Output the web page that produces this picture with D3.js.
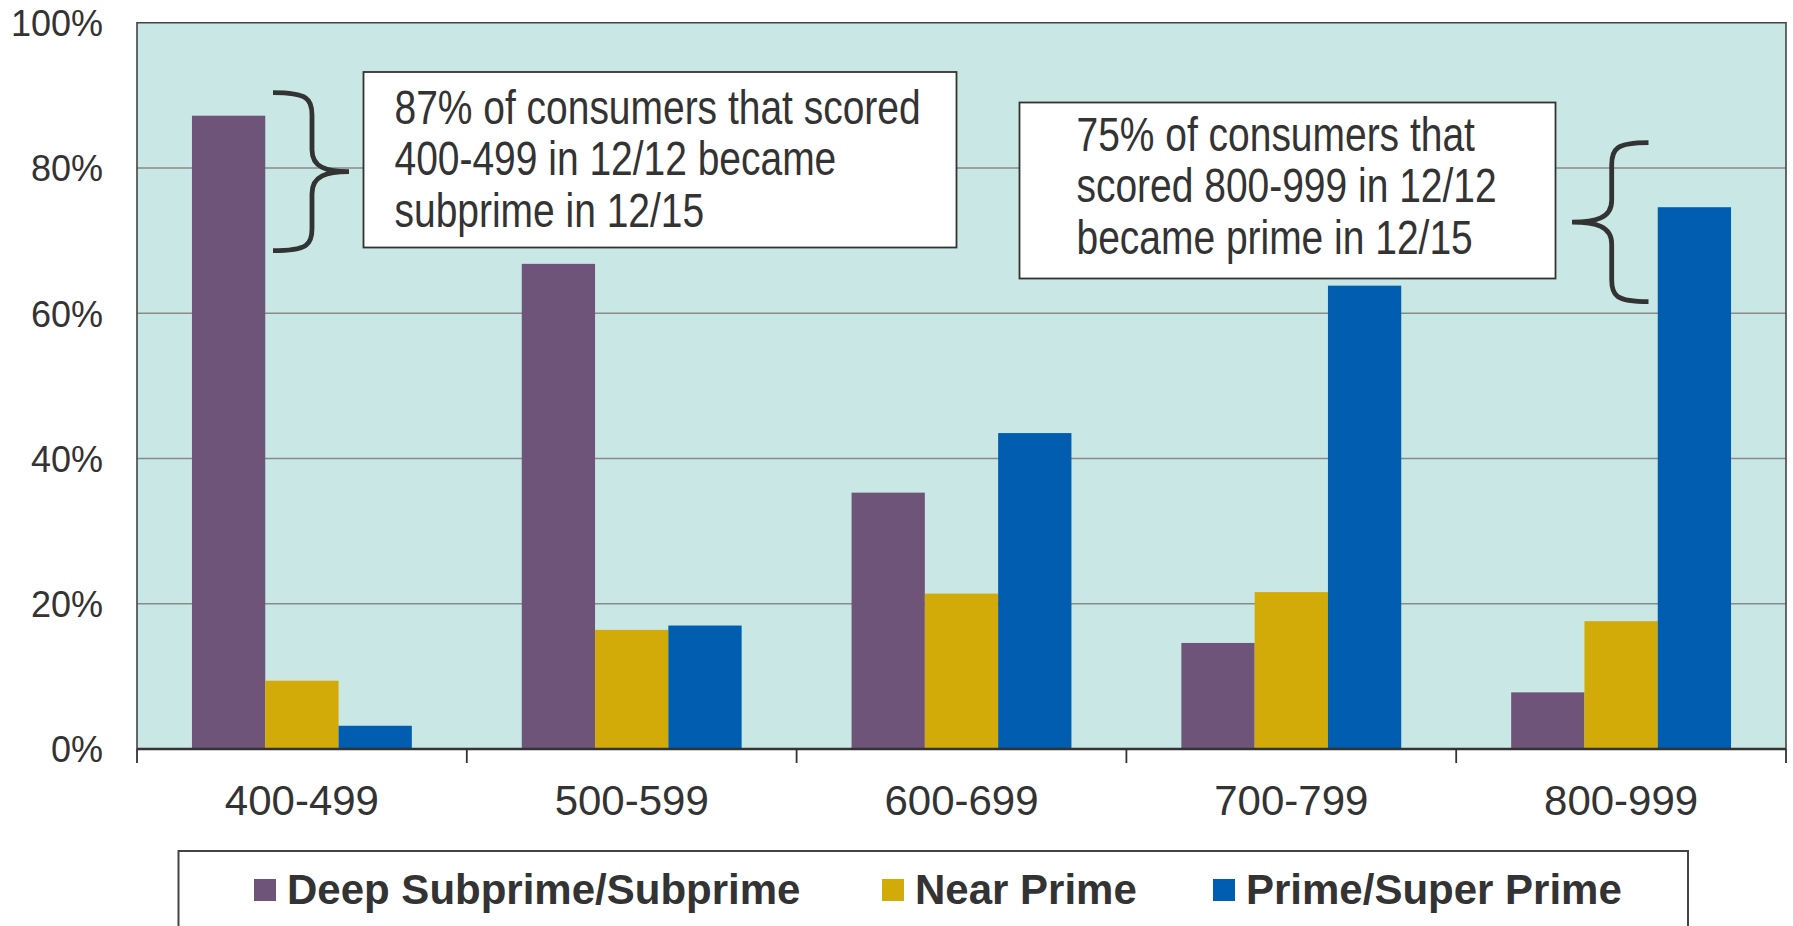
<!DOCTYPE html>
<html>
<head>
<meta charset="utf-8">
<script src="https://cdn.jsdelivr.net/npm/d3@7"></script>
<style>
  html, body { margin: 0; padding: 0; background: #fff; }
  svg { display: block; }
</style>
</head>
<body>
<svg id="chart" width="1793" height="926"></svg>
<script>
// ---- Data ----
const categories = ["400-499", "500-599", "600-699", "700-799", "800-999"];
const seriesNames = ["Deep Subprime/Subprime", "Near Prime", "Prime/Super Prime"];
const deepSubprime = [87.2, 66.8, 35.3, 14.6, 7.8];
const nearPrime = [9.4, 16.4, 21.4, 21.6, 17.6];
const primeSuper = [3.2, 17.0, 43.5, 63.8, 74.6];
const yTicks = [0, 20, 40, 60, 80, 100];
const note1 = ["87% of consumers that scored", "400-499 in 12/12 became", "subprime in 12/15"];
const note2 = ["75% of consumers that", "scored 800-999 in 12/12", "became prime in 12/15"];

const seriesValues = [deepSubprime, nearPrime, primeSuper];
const colors = ["#6f5479", "#d2ab08", "#005daf"];
const textColor = "#333333";

// ---- Layout ----
const svg = d3.select("#chart");
const plot = { left: 137, right: 1786, top: 22.75, bottom: 749 };

const x0 = d3.scaleBand().domain(categories).range([plot.left, plot.right]).padding(0);
const x1 = d3.scaleBand().domain(seriesNames).range([0, x0.bandwidth()]).paddingInner(0).paddingOuter(0.75);
const y = d3.scaleLinear().domain([0, 100]).range([plot.bottom, plot.top]);

// plot background
svg.append("rect")
  .attr("x", plot.left).attr("y", plot.top)
  .attr("width", plot.right - plot.left).attr("height", plot.bottom - plot.top)
  .attr("fill", "#c9e8e5");

// gridlines
svg.append("g")
  .selectAll("line")
  .data(yTicks.filter(d => d > 0 && d < 100))
  .join("line")
  .attr("x1", plot.left).attr("x2", plot.right)
  .attr("y1", d => y(d)).attr("y2", d => y(d))
  .attr("stroke", "#8a8a8a").attr("stroke-width", 1.5);

// plot border (top, left, right)
svg.append("path")
  .attr("d", `M${plot.left},${plot.bottom} L${plot.left},${plot.top} L${plot.right},${plot.top} L${plot.right},${plot.bottom}`)
  .attr("fill", "none").attr("stroke", "#444").attr("stroke-width", 1.6);

// bars
const rows = categories.map((c, i) => ({ cat: c, vals: seriesNames.map((s, j) => ({ s, j, v: seriesValues[j][i] })) }));
svg.append("g")
  .selectAll("g")
  .data(rows)
  .join("g")
  .attr("transform", d => `translate(${x0(d.cat)},0)`)
  .selectAll("rect")
  .data(d => d.vals)
  .join("rect")
  .attr("x", d => x1(d.s))
  .attr("y", d => y(d.v))
  .attr("width", x1.bandwidth())
  .attr("height", d => y(0) - y(d.v))
  .attr("fill", d => colors[d.j]);

// y axis labels
const yAxis = d3.axisLeft(y).tickValues(yTicks).tickFormat(d => d + "%").tickSize(0).tickPadding(0);
const yg = svg.append("g").attr("transform", `translate(103,0)`).call(yAxis);
yg.select(".domain").remove();
yg.selectAll("text")
  .attr("font-family", "Liberation Sans, Arial, sans-serif")
  .attr("font-size", 36)
  .attr("fill", textColor)
  .attr("dy", "0.36em");

// x axis
const xAxis = d3.axisBottom(x0).tickSize(0).tickPadding(0);
const xg = svg.append("g").attr("transform", `translate(0,${plot.bottom})`).call(xAxis);
xg.select(".domain").remove();
xg.selectAll("text")
  .attr("font-family", "Liberation Sans, Arial, sans-serif")
  .attr("font-size", 42)
  .attr("fill", textColor)
  .attr("dy", null)
  .attr("y", 66);
// baseline
svg.append("line")
  .attr("x1", plot.left).attr("x2", plot.right)
  .attr("y1", plot.bottom).attr("y2", plot.bottom)
  .attr("stroke", "#333").attr("stroke-width", 2.5);
// category boundary ticks
const boundaries = categories.map(c => x0(c)).concat([x0(categories[categories.length - 1]) + x0.bandwidth()]);
svg.append("g").selectAll("line")
  .data(boundaries)
  .join("line")
  .attr("x1", d => d).attr("x2", d => d)
  .attr("y1", plot.bottom).attr("y2", plot.bottom + 14)
  .attr("stroke", "#333").attr("stroke-width", 1.8);

// ---- Annotations ----
function noteBox(x, yTop, w, h, textX, firstBaseline, lines) {
  svg.append("rect")
    .attr("x", x).attr("y", yTop).attr("width", w).attr("height", h)
    .attr("fill", "#fff").attr("stroke", "#333").attr("stroke-width", 1.8);
  const g = svg.append("g");
  lines.forEach((t, i) => {
    const el = g.append("text")
      .attr("x", textX).attr("y", firstBaseline + i * 51.6)
      .attr("font-family", "Liberation Sans Narrow, Arial Narrow, Liberation Sans, Arial, sans-serif")
      .attr("font-size", 47.5)
      .attr("fill", textColor)
      .text(t);
    // check whether a narrow face is in use; if not, condense
    const wNarrow = el.node().getComputedTextLength();
    el.attr("font-family", "Liberation Sans, Arial, sans-serif");
    const wReg = el.node().getComputedTextLength();
    if (wNarrow / wReg > 0.92) {
      el.attr("textLength", wReg * 0.82).attr("lengthAdjust", "spacingAndGlyphs");
    } else {
      el.attr("font-family", "Liberation Sans Narrow, Arial Narrow, sans-serif");
    }
  });
}
noteBox(363.5, 72, 593, 175.5, 394.5, 123.5, note1);
noteBox(1019.5, 102.5, 536, 176, 1076.5, 150.8, note2);

// braces
function brace(xEnd, xSpine, xTip, yTop, yBot) {
  const ym = (yTop + yBot) / 2;
  const dx = xSpine - xEnd;       // signed
  const dt = xTip - xSpine;       // signed
  const r = 22;
  const p = d3.path();
  p.moveTo(xEnd, yTop);
  p.bezierCurveTo(xEnd + dx * 0.9, yTop, xSpine, yTop + r * 0.3, xSpine, yTop + r);
  p.lineTo(xSpine, ym - r);
  p.bezierCurveTo(xSpine, ym - 4, xSpine + dt * 0.4, ym, xTip, ym);
  p.bezierCurveTo(xSpine + dt * 0.4, ym, xSpine, ym + 4, xSpine, ym + r);
  p.lineTo(xSpine, yBot - r);
  p.bezierCurveTo(xSpine, yBot - r * 0.3, xEnd + dx * 0.9, yBot, xEnd, yBot);
  svg.append("path").attr("d", p.toString())
    .attr("fill", "none").attr("stroke", "#333").attr("stroke-width", 4.8)
    .attr("stroke-linecap", "butt");
}
brace(273, 312, 349, 92.7, 250.7);
brace(1648.5, 1611.7, 1572, 142.7, 301.7);

// ---- Legend ----
svg.append("rect")
  .attr("x", 178.5).attr("y", 851).attr("width", 1509.5).attr("height", 100)
  .attr("fill", "#fff").attr("stroke", "#444").attr("stroke-width", 2);
const legendPos = [{ sx: 254, tx: 287 }, { sx: 882, tx: 915 }, { sx: 1213, tx: 1246 }];
const lg = svg.append("g").selectAll("g").data(seriesNames).join("g");
lg.append("rect")
  .attr("x", (d, i) => legendPos[i].sx).attr("y", 879)
  .attr("width", 22).attr("height", 22)
  .attr("fill", (d, i) => colors[i]);
lg.append("text")
  .attr("x", (d, i) => legendPos[i].tx).attr("y", 904)
  .attr("font-family", "Liberation Sans, Arial, sans-serif")
  .attr("font-weight", "bold")
  .attr("font-size", 42)
  .attr("fill", textColor)
  .text(d => d);
</script>
</body>
</html>
